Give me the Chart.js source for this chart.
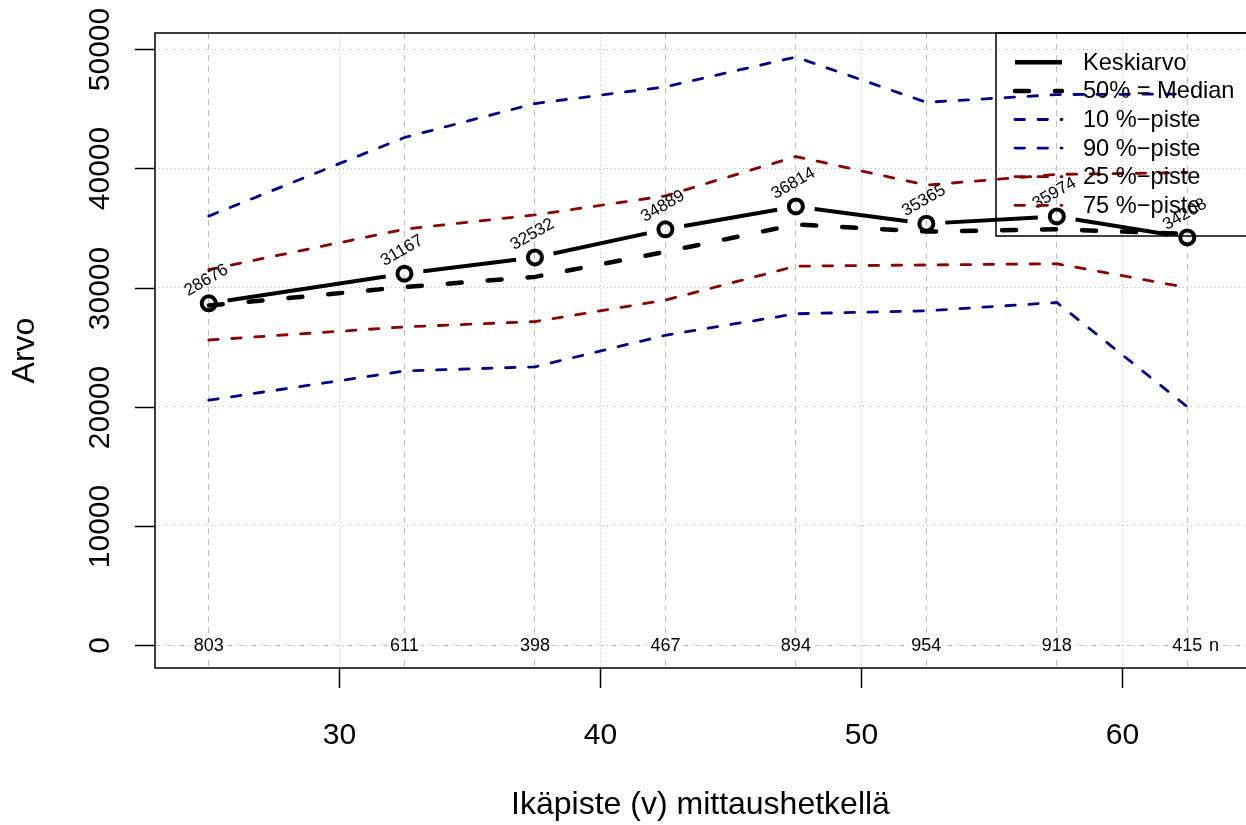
<!DOCTYPE html>
<html>
<head>
<meta charset="utf-8">
<script src="https://cdn.jsdelivr.net/npm/chart.js@4.4.1/dist/chart.umd.min.js"></script>
<style>
html,body{margin:0;padding:0;background:#fff;}
canvas{display:block;}
</style>
</head>
<body>
<canvas id="c" width="1246" height="825"></canvas>
<script>
// ---------- data ----------
const X_VALUES = [25, 32.5, 37.5, 42.5, 47.5, 52.5, 57.5, 62.5];
const MEAN     = [28676, 31167, 32532, 34889, 36814, 35365, 35974, 34208];
const MEDIAN   = [28500, 30050, 30900, 33000, 35300, 34700, 34900, 34500];
const P10      = [20550, 23000, 23350, 26000, 27800, 28050, 28750, 20000];
const P90      = [36000, 42600, 45450, 46850, 49350, 45550, 46200, 46250];
const P25      = [25600, 26700, 27150, 28950, 31800, 31900, 32000, 30000];
const P75      = [31500, 34900, 36100, 37700, 41000, 38600, 39500, 39650];
const N_COUNTS = [803, 611, 398, 467, 894, 954, 918, 415];
const N_LABEL = 'n';
const N_LABEL_X = 63.52;
const SERIES_LABELS = ['Keskiarvo', '50% = Median', '10 %\u2212piste', '90 %\u2212piste', '25 %\u2212piste', '75 %\u2212piste'];
const X_TICKS = [30, 40, 50, 60];
const Y_TICKS = [0, 10000, 20000, 30000, 40000, 50000];
const Y_GRID = [10000, 20000, 30000, 40000, 50000];
const X_TITLE = 'Ikäpiste (v) mittaushetkellä';
const Y_TITLE = 'Arvo';
const X_MIN = 22.94, X_MAX = 64.75;
const Y_MIN = -1930, Y_MAX = 51370;

const FONT = '"Liberation Sans", Arial, Helvetica, sans-serif';
const BLUE = '#00008b';
const RED = '#8b0000';
const GRID = '#bebebe';

const pts = ys => X_VALUES.map((x, i) => ({x: x, y: ys[i]}));

function quantileDs(label, ys, color) {
  return {
    label: label, data: pts(ys), borderColor: color, backgroundColor: color,
    borderWidth: 2.8, borderDash: [9.5, 13.5], borderCapStyle: 'round',
    pointRadius: 0, tension: 0, fill: false, xAxisID: 'x', yAxisID: 'y'
  };
}

const datasets = [
  { label: SERIES_LABELS[0], data: pts(MEAN), showLine: false,
    borderColor: '#000', backgroundColor: '#000', borderWidth: 4.5,
    pointRadius: 7, pointBorderWidth: 4, pointBorderColor: '#000',
    pointBackgroundColor: 'rgba(0,0,0,0)', xAxisID: 'x', yAxisID: 'y' },
  { label: SERIES_LABELS[1], data: pts(MEDIAN), borderColor: '#000', backgroundColor: '#000',
    borderWidth: 4.5, borderDash: [14, 26], borderCapStyle: 'round',
    pointRadius: 0, tension: 0, fill: false, xAxisID: 'x', yAxisID: 'y' },
  quantileDs(SERIES_LABELS[2], P10, BLUE),
  quantileDs(SERIES_LABELS[3], P90, BLUE),
  quantileDs(SERIES_LABELS[4], P25, RED),
  quantileDs(SERIES_LABELS[5], P75, RED)
];

function fixedTicks(list) {
  return function (axis) { axis.ticks = list.map(v => ({value: v})); };
}

function gridScale(axis, position, min, max, ticks, dash) {
  return {
    type: 'linear', axis: axis, position: position, min: min, max: max,
    afterBuildTicks: fixedTicks(ticks),
    ticks: {display: false},
    grid: {display: true, color: GRID, lineWidth: 1, drawTicks: false},
    border: {display: false, dash: dash},
    title: {display: false}
  };
}

// ---------- plugin: R-like axes, labels, legend ----------
const rStyle = {
  id: 'rStyle',
  beforeDraw(chart) {
    const ctx = chart.ctx;
    ctx.save();
    ctx.fillStyle = '#fff';
    ctx.fillRect(0, 0, chart.width, chart.height);
    ctx.restore();
  },
  afterDatasetsDraw(chart) {
    const ctx = chart.ctx;
    const xs = chart.scales.x, ys = chart.scales.y;
    // mean line with gaps around the points (R type = "b")
    const meta = chart.getDatasetMeta(0);
    const el = meta.data;
    ctx.save();
    ctx.strokeStyle = '#000';
    ctx.lineWidth = 4;
    ctx.lineCap = 'butt';
    const gap = 19;
    for (let i = 0; i < el.length - 1; i++) {
      const a = el[i], b = el[i + 1];
      const dx = b.x - a.x, dy = b.y - a.y;
      const len = Math.hypot(dx, dy);
      if (len <= 2 * gap) continue;
      const ux = dx / len, uy = dy / len;
      ctx.beginPath();
      ctx.moveTo(a.x + ux * gap, a.y + uy * gap);
      ctx.lineTo(b.x - ux * gap, b.y - uy * gap);
      ctx.stroke();
    }
    // mean value labels
    ctx.fillStyle = '#000';
    ctx.font = '17px ' + FONT;
    ctx.textAlign = 'center';
    ctx.textBaseline = 'middle';
    el.forEach((p, i) => {
      ctx.save();
      ctx.translate(p.x - 2.5, p.y - 23);
      ctx.rotate(-30 * Math.PI / 180);
      ctx.fillText(String(MEAN[i]), 0, 0);
      ctx.restore();
    });
    // n counts on the zero line
    ctx.font = '18px ' + FONT;
    const y0 = ys.getPixelForValue(0);
    const drawN = (txt, px) => {
      const w = ctx.measureText(txt).width;
      ctx.fillStyle = '#fff';
      ctx.fillRect(px - w / 2 - 2, y0 - 10, w + 4, 20);
      ctx.fillStyle = '#000';
      ctx.fillText(txt, px, y0 + 1);
    };
    X_VALUES.forEach((x, i) => drawN(String(N_COUNTS[i]), xs.getPixelForValue(x)));
    drawN(N_LABEL, xs.getPixelForValue(N_LABEL_X));
    ctx.restore();
  },
  afterDraw(chart) {
    const ctx = chart.ctx;
    const ca = chart.chartArea;
    const xs = chart.scales.x, ys = chart.scales.y;
    ctx.save();
    // frame (right edge lies outside the canvas)
    ctx.strokeStyle = '#000';
    ctx.lineWidth = 1.5;
    ctx.setLineDash([]);
    ctx.beginPath();
    ctx.moveTo(ca.right + 20, ca.top);
    ctx.lineTo(ca.left, ca.top);
    ctx.lineTo(ca.left, ca.bottom);
    ctx.lineTo(ca.right + 20, ca.bottom);
    ctx.stroke();
    // y ticks + labels
    ctx.fillStyle = '#000';
    ctx.font = '30px ' + FONT;
    ctx.textAlign = 'center';
    ctx.textBaseline = 'alphabetic';
    Y_TICKS.forEach(v => {
      const py = Math.round(ys.getPixelForValue(v)) + 0.5;
      ctx.beginPath();
      ctx.moveTo(ca.left - 20, py);
      ctx.lineTo(ca.left, py);
      ctx.stroke();
      ctx.save();
      ctx.translate(108.5, py);
      ctx.rotate(-Math.PI / 2);
      ctx.fillText(String(v), 0, 0);
      ctx.restore();
    });
    // x ticks + labels
    X_TICKS.forEach(v => {
      const px = Math.round(xs.getPixelForValue(v)) + 0.5;
      ctx.beginPath();
      ctx.moveTo(px, ca.bottom);
      ctx.lineTo(px, ca.bottom + 20);
      ctx.stroke();
      ctx.fillText(String(v), px, 744);
    });
    // axis titles
    ctx.font = '32px ' + FONT;
    ctx.fillText(X_TITLE, (ca.left + ca.right) / 2, 814);
    ctx.save();
    ctx.translate(33.5, (ca.top + ca.bottom) / 2);
    ctx.rotate(-Math.PI / 2);
    ctx.fillText(Y_TITLE, 0, 0);
    ctx.restore();
    // legend (top right, transparent)
    const lg = {left: 996, top: 33, right: 1254, bottom: 236,
                s0: 1015, s1: 1062, tx: 1083, y: 62.3, dy: 28.6};
    ctx.lineWidth = 1.5;
    ctx.strokeStyle = '#000';
    ctx.strokeRect(lg.left, lg.top, lg.right - lg.left, lg.bottom - lg.top);
    ctx.font = '23.6px ' + FONT;
    ctx.textAlign = 'left';
    ctx.textBaseline = 'middle';
    chart.data.datasets.forEach((ds, i) => {
      const y = lg.y + i * lg.dy;
      ctx.save();
      ctx.strokeStyle = ds.borderColor;
      ctx.lineWidth = ds.borderWidth;
      ctx.lineCap = ds.borderCapStyle || 'butt';
      ctx.setLineDash(ds.borderDash || []);
      ctx.beginPath();
      ctx.moveTo(lg.s0, y);
      ctx.lineTo(lg.s1, y);
      ctx.stroke();
      ctx.restore();
      ctx.fillStyle = '#000';
      ctx.fillText(ds.label, lg.tx, y + 1);
    });
    ctx.restore();
  }
};

new Chart(document.getElementById('c'), {
  type: 'line',
  data: {datasets: datasets},
  options: {
    responsive: false,
    animation: false,
    events: [],
    devicePixelRatio: 1,
    layout: {autoPadding: false, padding: {left: 155, top: 33, right: 0, bottom: 157}},
    plugins: {legend: {display: false}, tooltip: {enabled: false}},
    scales: {
      x:  gridScale('x', 'bottom', X_MIN, X_MAX, X_TICKS, [1, 3]),
      xd: gridScale('x', 'bottom', X_MIN, X_MAX, X_VALUES, [6, 5]),
      y:  gridScale('y', 'left', Y_MIN, Y_MAX, Y_GRID, [1, 3]),
      y0: gridScale('y', 'left', Y_MIN, Y_MAX, [0], [5, 3, 1, 3])
    }
  },
  plugins: [rStyle]
});
</script>
</body>
</html>
